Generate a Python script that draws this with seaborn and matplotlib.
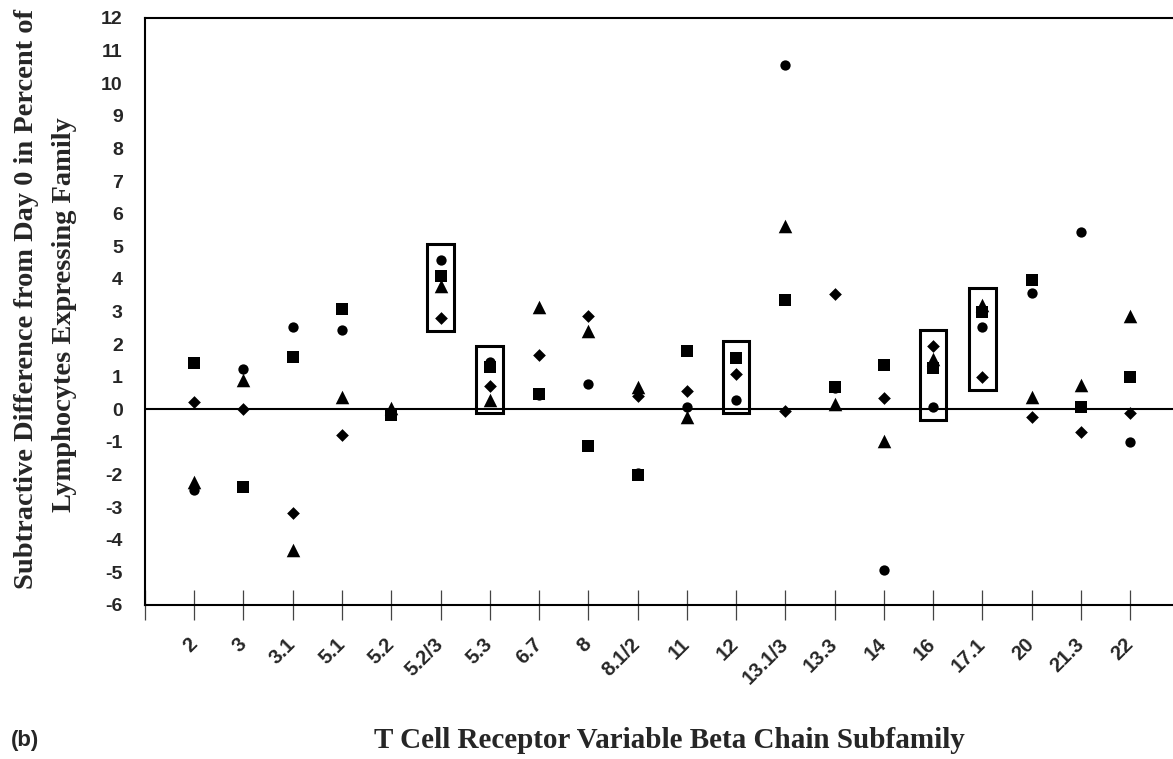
import numpy as np
import pandas as pd
import matplotlib
matplotlib.use("Agg")
import matplotlib.pyplot as plt
from matplotlib.patches import Rectangle
import seaborn as sns

subfamilies = ["2", "3", "3.1", "5.1", "5.2", "5.2/3", "5.3", "6.7", "8", "8.1/2",
               "11", "12", "13.1/3", "13.3", "14", "16", "17.1", "20", "21.3", "22"]

circle = [-2.46, 1.24, 2.51, 2.42, np.nan, 4.57, 1.45, 0.45, 0.79, -1.95,
          0.06, 0.28, 10.55, 0.65, -4.93, 0.08, 2.51, 3.58, 5.45, -1.0]
square = [1.42, -2.39, 1.61, 3.09, -0.18, 4.10, 1.30, 0.48, -1.11, -2.0,
          1.78, 1.58, 3.36, 0.67, 1.37, 1.27, 2.97, 3.98, 0.08, 1.0]
triangle = [-2.22, 0.91, -4.30, 0.39, 0.05, 3.79, 0.30, 3.15, 2.39, 0.69,
            -0.25, np.nan, 5.61, 0.16, -0.97, 1.55, 3.21, 0.39, 0.75, 2.85]
diamond = [0.21, 0.0, -3.19, -0.79, np.nan, 2.79, 0.73, 1.67, 2.87, 0.42,
           0.57, 1.09, -0.04, 3.54, 0.36, 1.94, 1.0, -0.22, -0.69, -0.12]

boxed = ["5.2/3", "5.3", "12", "16", "17.1"]

series = {"circle": circle, "square": square, "triangle": triangle, "diamond": diamond}
markers = {"circle": "o", "square": "s", "triangle": "^", "diamond": "D"}
sizes = {"circle": 55, "square": 78, "triangle": 95, "diamond": 42}

pos = np.arange(1, len(subfamilies) + 1)
df = pd.concat([pd.DataFrame({"pos": pos, "value": v, "series": k})
                for k, v in series.items()], ignore_index=True)

sns.set_style("white")
plt.rcParams["font.family"] = ["Liberation Sans", "DejaVu Sans"]
serif = ["Liberation Serif", "DejaVu Serif"]

fig = plt.figure(figsize=(11.73, 7.59), dpi=100)
ax = fig.add_axes([0.1236, 0.2029, 0.8764, 0.7734])

for name in series:
    sub = df[df["series"] == name]
    sns.scatterplot(data=sub, x="pos", y="value", marker=markers[name],
                    s=sizes[name], color="black", linewidth=0, ax=ax, zorder=3)

ax.axhline(0, color="black", lw=1.5, zorder=2)

# boxes around the highlighted subfamilies
for lab in boxed:
    i = subfamilies.index(lab)
    vals = [v[i] for v in series.values() if not np.isnan(v[i])]
    lo, hi = min(vals) - 0.4, max(vals) + 0.5
    ax.add_patch(Rectangle((pos[i] - 0.27, lo), 0.54, hi - lo, fill=False,
                           ec="black", lw=2.2, zorder=4))

ax.set_xlim(0, 20.87)
ax.set_ylim(-6, 12)
ax.set_yticks(range(-6, 13))
ax.set_yticklabels([str(t) for t in range(-6, 13)], fontsize=14, fontweight="bold")
ax.set_xticks(range(0, len(subfamilies) + 1))
ax.set_xticklabels([""] + subfamilies, fontsize=14.5, fontweight="bold",
                   rotation=45, ha="right", va="center", rotation_mode="anchor")
ax.tick_params(axis="x", bottom=True, direction="inout", length=22, width=0.9,
               color="#444444", pad=15)
ax.tick_params(axis="y", left=True, length=0, pad=16)

for side in ["left", "bottom", "top"]:
    ax.spines[side].set_color("black")
    ax.spines[side].set_linewidth(1.5)
ax.spines["right"].set_visible(False)

ax.set_xlabel("")
ax.set_ylabel("")
fig.text(0.023, 0.606, "Subtractive Difference from Day 0 in Percent of",
         rotation=90, ha="center", va="center", fontsize=20.5, fontweight="bold",
         family=serif)
fig.text(0.055, 0.585, "Lymphocytes Expressing Family",
         rotation=90, ha="center", va="center", fontsize=20.5, fontweight="bold",
         family=serif)
fig.text(0.571, 0.024, "T Cell Receptor Variable Beta Chain Subfamily",
         ha="center", va="center", fontsize=21, fontweight="bold", family=serif)
fig.text(0.009, 0.024, "(b)", ha="left", va="center", fontsize=16, fontweight="bold")

fig.savefig("out.png", dpi=100)
